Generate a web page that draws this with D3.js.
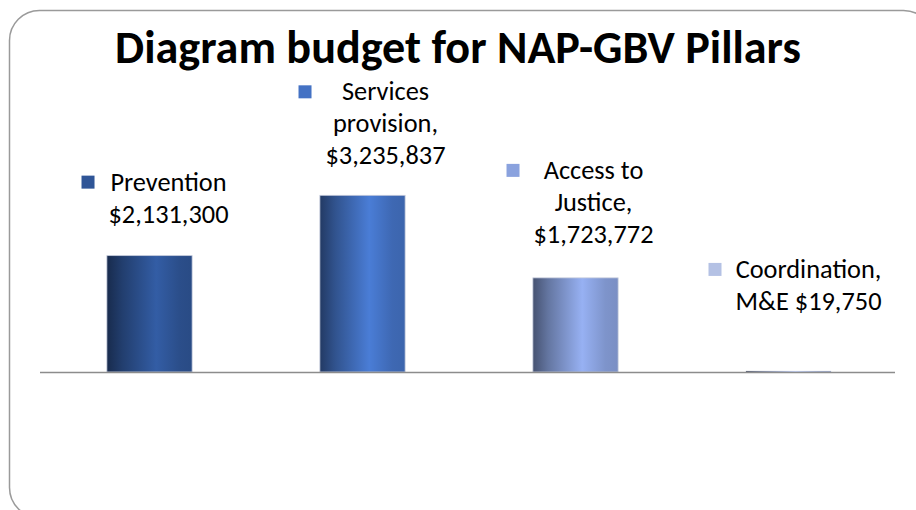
<!DOCTYPE html>
<html>
<head>
<meta charset="utf-8">
<script src="https://cdn.jsdelivr.net/npm/d3@7/dist/d3.min.js"></script>
<style>
  html, body { margin: 0; padding: 0; background: #fff; }
  svg { display: block; }
</style>
</head>
<body>
<div id="chart"></div>
<script>
// Diagram budget for NAP-GBV Pillars
var titleText = 'Diagram budget for NAP-GBV Pillars';
var pillars = ['Prevention', 'Services provision', 'Access to Justice', 'Coordination, M&E'];
var budgets = [2131300, 3235837, 1723772, 19750];
var labelLines = [
    ['Prevention', '$2,131,300'],
    ['Services', 'provision,', '$3,235,837'],
    ['Access to', 'Justice,', '$1,723,772'],
    ['Coordination,', 'M&E $19,750']
];
var pillarColors = ['#2f5597', '#4472c4', '#8aa2de', '#b4c1e4'];

var width = 916, height = 510,
    fontFamily = "Carlito, Calibri, Lato, 'Open Sans', sans-serif";

var svg = d3.select('#chart')
    .append('svg')
    .attr('width', width)
    .attr('height', height);

var defs = svg.append('defs');

// outer rounded frame (runs off the right and bottom edge)
svg.append('rect')
    .attr('x', 9.5)
    .attr('y', 10.5)
    .attr('width', 924)
    .attr('height', 507)
    .attr('rx', 30)
    .attr('fill', '#fff')
    .attr('stroke', '#9a9a9a')
    .attr('stroke-width', 1.5);

// fit a text node to a wanted width by adjusting its font size
function fitText(sel, text, target, weight){
    var t = sel.append('text')
        .attr('font-family', fontFamily)
        .attr('font-weight', weight)
        .attr('font-size', 100)
        .text(text);
    var w = t.node().getComputedTextLength();
    t.remove();
    return 100 * target / w;
}

var titleSize = fitText(svg, titleText, 686, 'bold');
svg.append('text')
    .attr('x', width / 2)
    .attr('y', 63)
    .attr('text-anchor', 'middle')
    .attr('font-family', fontFamily)
    .attr('font-weight', 'bold')
    .attr('font-size', titleSize)
    .attr('fill', '#000')
    .text(titleText);

var x = d3.scaleBand()
    .domain(pillars)
    .range([43, 895])
    .paddingInner(0.6)
    .paddingOuter(0.3);

var y = d3.scaleLinear()
    .domain([0, 4000000])
    .range([372, 153.6]);

// horizontal gradient for each bar: dark left edge, highlight right of centre
pillars.forEach(function(p, i){
    var base = d3.rgb(pillarColors[i]);
    var g = defs.append('linearGradient')
        .attr('id', 'grad' + i)
        .attr('x1', 0).attr('x2', 1).attr('y1', 0).attr('y2', 0);
    [
        [0, base.darker(1.9)],
        [0.18, base.darker(0.9)],
        [0.58, base.brighter(0.25)],
        [0.85, base.darker(0.25)],
        [1, base.darker(0.35)]
    ].forEach(function(s){
        g.append('stop')
            .attr('offset', s[0])
            .attr('stop-color', s[1].formatHex());
    });
});

svg.append('g')
    .selectAll('rect')
    .data(budgets)
    .enter()
    .append('rect')
    .attr('x', function(d, i){ return x(pillars[i]); })
    .attr('y', function(d){ return y(d); })
    .attr('width', x.bandwidth())
    .attr('height', function(d){ return y(0) - y(d); })
    .attr('fill', function(d, i){ return 'url(#grad' + i + ')'; })
    .attr('stroke', function(d){ return y(0) - y(d) < 3 ? 'none' : '#c4cadb'; })
    .attr('stroke-width', 0.8);

// category axis line
svg.append('line')
    .attr('x1', 40)
    .attr('x2', 895)
    .attr('y1', y(0) + 0.5)
    .attr('y2', y(0) + 0.5)
    .attr('stroke', '#8c8c8c')
    .attr('stroke-width', 1.6);

// data labels with legend key
var labelSize = fitText(svg, '$3,235,837', 120, 'normal'),
    lineHeight = 32,
    labelGap = [33, 31, 35, 61],
    labelShift = [19, 23, 18, 20];

var labels = svg.append('g')
    .selectAll('g')
    .data(labelLines)
    .enter()
    .append('g');

labels.each(function(lines, i){
    var g = d3.select(this),
        cx = x(pillars[i]) + x.bandwidth() / 2 + labelShift[i],
        lastBase = y(budgets[i]) - labelGap[i],
        firstBase = lastBase - (lines.length - 1) * lineHeight;

    var text = g.append('text')
        .attr('text-anchor', 'middle')
        .attr('font-family', fontFamily)
        .attr('font-size', labelSize)
        .attr('fill', '#000');
    lines.forEach(function(l, j){
        text.append('tspan')
            .attr('x', cx)
            .attr('y', firstBase + j * lineHeight)
            .text(l);
    });

    var maxW = 0;
    text.selectAll('tspan').each(function(){
        maxW = Math.max(maxW, this.getComputedTextLength());
    });

    g.append('rect')
        .attr('x', cx - maxW / 2 - 27)
        .attr('y', firstBase - 15)
        .attr('width', 13)
        .attr('height', 13)
        .attr('fill', pillarColors[i]);
});
</script>
</body>
</html>
